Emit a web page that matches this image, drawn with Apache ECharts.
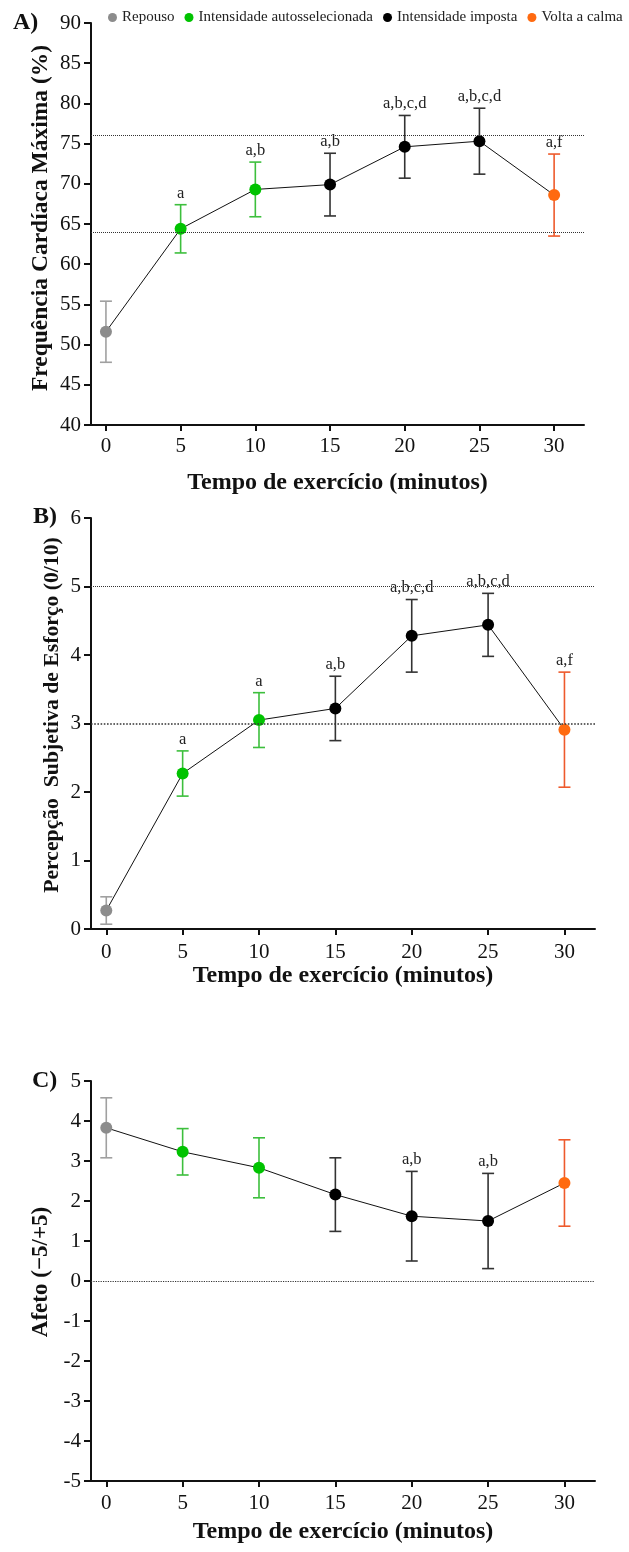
<!DOCTYPE html>
<html>
<head>
<meta charset="utf-8">
<script src="https://cdn.jsdelivr.net/npm/echarts@6/dist/echarts.min.js"></script>
<style>
html,body{margin:0;padding:0;background:#fff;}
#chart{width:629px;height:1552px;}
</style>
</head>
<body>
<div id="chart"></div>
<script>
// ---- data ----
const times = [0, 5, 10, 15, 20, 25, 30];
const xTicks = [0, 5, 10, 15, 20, 25, 30];
const phaseNames = ['Repouso', 'Intensidade autosselecionada', 'Intensidade imposta', 'Volta a calma'];
const phaseOfPoint = [0, 1, 1, 2, 2, 2, 3];

const hrMean = [51.6, 64.4, 69.3, 69.9, 74.6, 75.3, 68.6];
const hrSd   = [3.8, 3.0, 3.4, 3.9, 3.9, 4.1, 5.1];
const hrSig  = ['', 'a', 'a,b', 'a,b', 'a,b,c,d', 'a,b,c,d', 'a,f'];
const hrRef  = [64, 76];

const rpeMean = [0.27, 2.27, 3.05, 3.22, 4.28, 4.44, 2.91];
const rpeSd   = [0.20, 0.33, 0.40, 0.47, 0.53, 0.46, 0.84];
const rpeSig  = ['', 'a', 'a', 'a,b', 'a,b,c,d', 'a,b,c,d', 'a,f'];
const rpeRef  = [3, 5];

const afMean = [3.83, 3.23, 2.83, 2.16, 1.62, 1.50, 2.45];
const afSd   = [0.75, 0.58, 0.75, 0.92, 1.12, 1.19, 1.08];
const afSig  = ['', '', '', '', 'a,b', 'a,b', ''];
const afRef  = [0];

const yTitles = ['Frequência Cardíaca Máxima (%)', 'Percepção  Subjetiva de Esforço (0/10)', 'Afeto (−5/+5)'];
const xTitle = 'Tempo de exercício (minutos)';
const panelLetters = ['A)', 'B)', 'C)'];

// ---- styling ----
const FONT = '"Liberation Serif", "Times New Roman", serif';
const markerColors = ['#8c8c8c', '#00c300', '#000000', '#ff6a10'];
const errColors = ['#a0a0a0', '#3dbf3d', '#333333', '#ee5a2c'];

const panels = [
  {mean: hrMean, sd: hrSd, sig: hrSig, ref: hrRef, min: 40, max: 90, interval: 5,
   grid: {left: 91, right: 45, top: 23, height: 402}, xGap: 46, xMargin: 11,
   yName: {x: 41, y: 218, size: 23.5},
   title: {left: 13, top: 11}, refWidths: [1, 1]},
  {mean: rpeMean, sd: rpeSd, sig: rpeSig, ref: rpeRef, min: 0, max: 6, interval: 1,
   grid: {left: 91, right: 34, top: 518, height: 411}, xGap: 31, xMargin: 13,
   yName: {x: 52, y: 715, size: 21.7},
   title: {left: 33, top: 505}, refWidths: [1.6, 1]},
  {mean: afMean, sd: afSd, sig: afSig, ref: afRef, min: -5, max: 5, interval: 1,
   grid: {left: 91, right: 34, top: 1081, height: 400}, xGap: 39, xMargin: 12,
   yName: {x: 41, y: 1272, size: 23},
   title: {left: 32, top: 1069}, refWidths: [1.2]}
];

const grids = [], xAxes = [], yAxes = [], series = [], titles = [], graphics = [];

panels.forEach((p, i) => {
  grids.push(p.grid);
  titles.push({text: panelLetters[i], left: p.title.left, top: p.title.top, padding: 0,
    textStyle: {fontFamily: FONT, fontWeight: 'bold', fontSize: 24, color: '#111'}});
  graphics.push({
    type: 'text', x: p.yName.x, y: p.yName.y, rotation: Math.PI / 2, silent: true,
    style: {text: yTitles[i], fill: '#111', font: 'bold ' + p.yName.size + 'px ' + FONT,
            align: 'center', verticalAlign: 'middle', textAlign: 'center', textVerticalAlign: 'middle'}
  });
  xAxes.push({
    gridIndex: i, type: 'value', min: -1, max: 32,
    name: xTitle, nameLocation: 'middle', nameGap: p.xGap,
    nameTextStyle: {fontFamily: FONT, fontWeight: 'bold', fontSize: 24, color: '#111'},
    axisLine: {show: true, onZero: false, lineStyle: {color: '#111', width: 2}},
    axisTick: {show: true, customValues: xTicks, length: 6, lineStyle: {color: '#111', width: 2}},
    axisLabel: {show: true, customValues: xTicks, fontFamily: FONT, fontSize: 21, color: '#111', margin: p.xMargin},
    splitLine: {show: false}
  });
  yAxes.push({
    gridIndex: i, type: 'value', min: p.min, max: p.max, interval: p.interval,
    axisLine: {show: true, onZero: false, lineStyle: {color: '#111', width: 2}},
    axisTick: {show: true, length: 7, lineStyle: {color: '#111', width: 2}},
    axisLabel: {fontFamily: FONT, fontSize: 21, color: '#111', margin: 10},
    splitLine: {show: false}
  });

  // connecting line + reference lines
  series.push({
    type: 'line', xAxisIndex: i, yAxisIndex: i, z: 2,
    data: times.map((t, k) => [t, p.mean[k]]),
    symbol: 'none', lineStyle: {color: '#111', width: 1}, silent: true,
    markLine: {
      silent: true, symbol: 'none', label: {show: false}, animation: false,
      data: p.ref.map((v, r) => ({yAxis: v, lineStyle: {type: 'dotted', color: '#333', width: p.refWidths[r]}}))
    }
  });

  // error bars + significance labels
  const sig = p.sig;
  series.push({
    type: 'custom', xAxisIndex: i, yAxisIndex: i, z: 3, silent: true,
    data: times.map((t, k) => [t, p.mean[k], p.sd[k], phaseOfPoint[k]]),
    encode: {x: 0, y: 1},
    renderItem: function (params, api) {
      const x = api.value(0), m = api.value(1), s = api.value(2), ph = api.value(3);
      const top = api.coord([x, m + s]);
      const bot = api.coord([x, m - s]);
      const c = errColors[ph];
      const hw = 6;
      const ls = {stroke: c, lineWidth: 1.6};
      const children = [
        {type: 'line', shape: {x1: top[0], y1: top[1], x2: bot[0], y2: bot[1]}, style: ls},
        {type: 'line', shape: {x1: top[0] - hw, y1: top[1], x2: top[0] + hw, y2: top[1]}, style: ls},
        {type: 'line', shape: {x1: bot[0] - hw, y1: bot[1], x2: bot[0] + hw, y2: bot[1]}, style: ls}
      ];
      const txt = sig[params.dataIndex];
      if (txt) {
        children.push({type: 'text', x: top[0], y: top[1] - 3,
          style: {text: txt, fill: '#222', font: 'normal 16.5px ' + FONT,
                  align: 'center', verticalAlign: 'bottom', textAlign: 'center', textVerticalAlign: 'bottom'}});
      }
      return {type: 'group', children: children};
    }
  });

  // markers, one series per phase (drives legend)
  phaseNames.forEach((name, ph) => {
    series.push({
      type: 'scatter', name: name, xAxisIndex: i, yAxisIndex: i, z: 4,
      symbol: 'circle', symbolSize: 12,
      itemStyle: {color: markerColors[ph], opacity: 1},
      data: times.map((t, k) => phaseOfPoint[k] === ph ? [t, p.mean[k]] : null).filter(d => d)
    });
  });
});

const chart = echarts.init(document.getElementById('chart'), null, {renderer: 'canvas'});
chart.setOption({
  animation: false,
  backgroundColor: '#fff',
  title: titles,
  graphic: graphics,
  legend: {
    data: phaseNames.map(n => ({name: n, icon: 'circle'})),
    left: 108, top: 10, padding: 0, itemWidth: 9, itemHeight: 9, itemGap: 10,
    selectedMode: false,
    textStyle: {fontFamily: FONT, fontSize: 15, color: '#222'}
  },
  grid: grids, xAxis: xAxes, yAxis: yAxes, series: series
});
</script>
</body>
</html>
